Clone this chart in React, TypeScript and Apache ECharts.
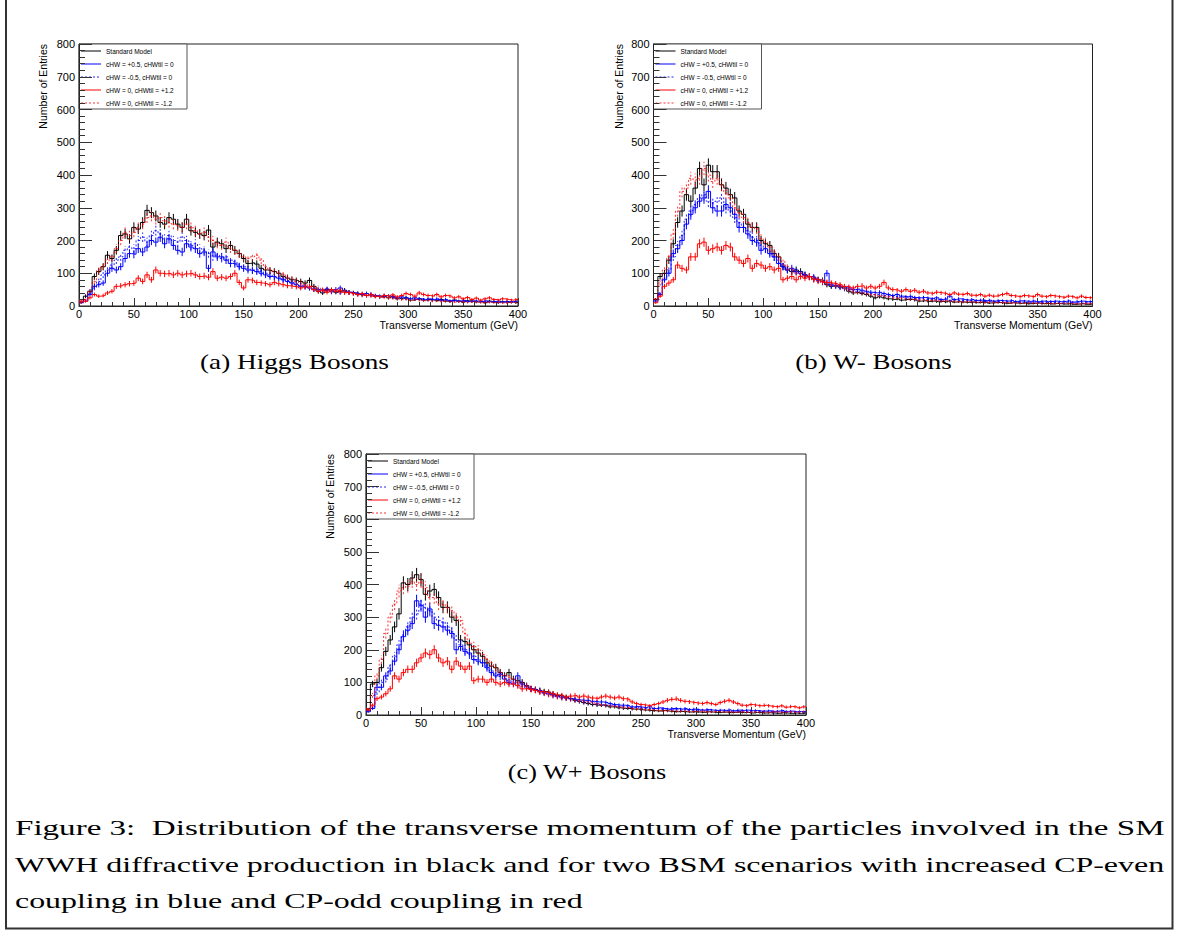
import React, { useEffect, useRef } from "react";
import * as echarts from "echarts";

// ---------------- data (4 GeV bins, 0-400 GeV) ----------------
const BIN_WIDTH = 4;
const X_MIN = 0;
const X_MAX = 400;
const Y_MIN = 0;
const Y_MAX = 800;

const seriesNames = [
  "Standard Model",
  "cHW = +0.5, cHWtil = 0",
  "cHW = -0.5, cHWtil = 0",
  "cHW = 0, cHWtil = +1.2",
  "cHW = 0, cHWtil = -1.2",
];

// (a) Higgs bosons
const higgsSM = [
  12, 30, 45, 90, 105, 120, 155, 145, 170, 215,
  220, 205, 240, 235, 255, 292, 285, 275, 255, 250,
  270, 265, 250, 240, 265, 230, 225, 220, 215, 232,
  180, 195, 190, 175, 185, 170, 160, 145, 130, 132,
  128, 115, 110, 108, 105, 100, 90, 85, 80, 78,
  75, 70, 78, 60, 45, 40, 50, 48, 42, 45,
  48, 42, 40, 38, 35, 32, 35, 30, 28, 30,
  25, 28, 22, 24, 25, 18, 20, 22, 18, 20,
  18, 16, 20, 15, 14, 18, 15, 12, 16, 14,
  12, 14, 10, 15, 12, 10, 13, 11, 12, 10,
];
const higgsCHWPlus = [
  10, 15, 35, 60, 65, 70, 100, 115, 110, 120,
  145, 160, 158, 175, 165, 180, 200, 195, 210, 190,
  205, 185, 170, 165, 190, 180, 175, 160, 165, 115,
  165, 150, 150, 140, 130, 128, 120, 115, 110, 108,
  105, 100, 95, 90, 88, 85, 80, 75, 70, 65,
  60, 58, 55, 52, 50, 48, 52, 45, 50, 55,
  45, 42, 40, 38, 35, 38, 35, 32, 30, 32,
  30, 28, 25, 28, 25, 22, 25, 22, 20, 22,
  20, 22, 18, 20, 16, 18, 15, 17, 14, 16,
  15, 14, 16, 13, 14, 15, 12, 14, 13, 15,
];
const higgsCHWMinus = [
  12, 20, 40, 55, 75, 95, 110, 125, 140, 150,
  170, 180, 175, 200, 210, 195, 215, 230, 220, 205,
  215, 200, 195, 210, 200, 185, 190, 175, 170, 160,
  150, 155, 145, 150, 140, 135, 125, 120, 115, 110,
  110, 105, 100, 95, 90, 88, 82, 78, 72, 68,
  62, 60, 55, 50, 48, 45, 48, 42, 45, 40,
  42, 40, 38, 35, 36, 32, 34, 30, 28, 30,
  28, 26, 25, 24, 22, 24, 20, 22, 20, 18,
  18, 20, 16, 18, 15, 16, 14, 15, 13, 14,
  14, 12, 13, 12, 14, 11, 12, 13, 11, 12,
];
const higgsTilPlus = [
  15, 14, 25, 35, 30, 32, 40, 45, 60, 62,
  65, 68, 70, 85, 75, 95, 80, 110, 100, 98,
  100, 95, 100, 95, 98, 100, 95, 90, 92, 88,
  105, 85, 88, 85, 90, 100, 72, 55, 80, 78,
  72, 70, 68, 65, 72, 68, 65, 62, 60, 58,
  55, 58, 60, 50, 45, 48, 42, 50, 45, 48,
  42, 40, 38, 35, 38, 32, 35, 30, 28, 32,
  30, 34, 28, 32, 38, 35, 30, 40, 35, 32,
  30, 35, 28, 32, 30, 25, 28, 22, 26, 20,
  24, 18, 22, 25, 20, 18, 22, 20, 18, 20,
];
const higgsTilMinus = [
  10, 20, 45, 75, 110, 120, 140, 150, 175, 200,
  225, 215, 225, 240, 250, 270, 275, 265, 270, 260,
  255, 250, 245, 240, 250, 240, 230, 220, 225, 210,
  200, 190, 185, 195, 175, 170, 160, 150, 145, 150,
  155, 140, 120, 110, 105, 100, 95, 88, 82, 75,
  70, 65, 60, 58, 55, 50, 48, 45, 50, 42,
  40, 42, 38, 35, 32, 35, 30, 28, 30, 26,
  25, 24, 22, 20, 22, 18, 20, 18, 16, 18,
  15, 16, 14, 15, 13, 12, 14, 12, 11, 13,
  12, 10, 11, 12, 10, 11, 9, 10, 11, 10,
];

// (b) W- bosons
const wMinusSM = [
  20, 90, 100, 140, 190, 255, 290, 340, 320, 360,
  420, 370, 430, 410, 410, 370, 360, 340, 330, 290,
  280, 250, 240, 240, 200, 190, 185, 160, 150, 120,
  110, 105, 110, 105, 95, 90, 85, 80, 78, 65,
  60, 62, 58, 55, 45, 40, 42, 38, 35, 30,
  25, 28, 25, 22, 20, 22, 18, 20, 20, 18,
  15, 16, 14, 15, 13, 14, 12, 15, 12, 13,
  12, 11, 12, 10, 11, 12, 9, 10, 11, 9,
  8, 10, 9, 8, 10, 7, 8, 9, 7, 8,
  6, 8, 7, 6, 7, 5, 6, 7, 5, 6,
];
const wMinusCHWPlus = [
  15, 35, 80, 100, 160, 175, 200, 250, 280, 300,
  320, 330, 350, 300, 290, 290, 310, 300, 280, 240,
  240, 220, 200, 195, 170, 175, 160, 150, 130, 120,
  110, 115, 105, 100, 95, 90, 88, 80, 75, 100,
  65, 62, 60, 58, 55, 50, 52, 48, 45, 42,
  40, 42, 38, 35, 32, 35, 30, 28, 30, 26,
  25, 26, 24, 22, 25, 20, 22, 30, 20, 22,
  20, 18, 20, 17, 18, 16, 18, 15, 17, 16,
  15, 17, 14, 16, 15, 14, 16, 13, 15, 14,
  14, 15, 13, 14, 16, 12, 14, 15, 13, 14,
];
const wMinusCHWMinus = [
  18, 40, 85, 110, 150, 185, 215, 265, 290, 310,
  330, 340, 320, 315, 320, 330, 300, 290, 270, 255,
  240, 230, 210, 200, 185, 175, 165, 150, 140, 125,
  115, 110, 105, 98, 92, 88, 82, 78, 72, 68,
  62, 60, 56, 52, 50, 48, 45, 42, 40, 38,
  35, 36, 32, 30, 28, 30, 26, 25, 24, 22,
  22, 20, 21, 19, 20, 18, 19, 17, 18, 16,
  16, 17, 15, 16, 14, 15, 13, 14, 13, 12,
  13, 12, 11, 12, 11, 10, 12, 11, 10, 11,
  10, 11, 9, 10, 11, 9, 10, 9, 10, 9,
];
const wMinusTilPlus = [
  10, 30, 60, 70, 80, 125, 115, 110, 150, 150,
  190, 195, 170, 175, 180, 170, 185, 180, 150, 140,
  130, 145, 115, 130, 125, 115, 120, 110, 115, 80,
  85, 90, 80, 90, 85, 90, 82, 80, 75, 72,
  70, 68, 65, 60, 58, 55, 60, 62, 55, 60,
  55, 60, 72, 55, 50, 48, 45, 50, 45, 48,
  42, 45, 40, 38, 42, 40, 38, 35, 40, 36,
  35, 38, 33, 32, 35, 30, 33, 30, 32, 35,
  38, 32, 30, 28, 32, 30, 28, 35, 30, 28,
  32, 30, 28, 26, 30, 28, 25, 30, 26, 25,
];
const wMinusTilMinus = [
  22, 70, 110, 150, 220, 290, 350, 360, 390, 385,
  390, 420, 400, 380, 390, 370, 345, 330, 300, 285,
  270, 255, 240, 235, 205, 195, 180, 165, 150, 135,
  120, 110, 100, 95, 92, 88, 80, 75, 72, 70,
  68, 65, 60, 55, 50, 45, 42, 40, 38, 35,
  35, 32, 30, 28, 26, 25, 24, 22, 20, 22,
  18, 20, 17, 18, 16, 15, 17, 14, 15, 13,
  12, 14, 12, 11, 13, 10, 12, 11, 10, 11,
  10, 9, 10, 8, 9, 10, 8, 9, 7, 8,
  8, 7, 8, 9, 7, 8, 6, 7, 8, 7,
];

// (c) W+ bosons
const wPlusSM = [
  15, 95, 100, 145, 195, 230, 270, 310, 405, 400,
  420, 430, 415, 370, 380, 385, 360, 330, 330, 300,
  290, 230, 225, 215, 200, 190, 180, 160, 150, 145,
  130, 120, 130, 110, 105, 100, 90, 80, 78, 75,
  72, 70, 65, 60, 58, 55, 50, 45, 42, 38,
  35, 32, 30, 30, 28, 25, 25, 22, 20, 20,
  18, 18, 16, 15, 14, 13, 12, 14, 12, 11,
  10, 11, 10, 9, 10, 9, 8, 10, 9, 8,
  8, 9, 7, 8, 9, 7, 8, 6, 8, 7,
  6, 7, 6, 5, 7, 6, 5, 6, 5, 6,
];
const wPlusCHWPlus = [
  10, 20, 85, 85, 120, 135, 165, 200, 240, 260,
  280, 350, 335, 300, 325, 280, 275, 270, 260, 250,
  200, 210, 195, 190, 170, 165, 160, 145, 130, 120,
  125, 110, 100, 95, 120, 95, 88, 80, 78, 75,
  68, 65, 62, 58, 55, 52, 50, 48, 46, 45,
  45, 42, 40, 40, 38, 35, 32, 30, 30, 28,
  25, 26, 24, 22, 25, 20, 22, 20, 18, 20,
  20, 18, 20, 17, 18, 16, 15, 17, 15, 14,
  15, 14, 16, 13, 15, 14, 15, 13, 14, 12,
  12, 13, 11, 12, 14, 11, 12, 10, 11, 10,
];
const wPlusCHWMinus = [
  12, 25, 70, 100, 110, 150, 180, 215, 245, 270,
  300, 310, 340, 330, 320, 300, 290, 285, 270, 255,
  230, 215, 200, 185, 180, 170, 160, 150, 135, 125,
  118, 112, 105, 100, 92, 88, 84, 80, 76, 72,
  68, 64, 60, 56, 52, 50, 48, 46, 42, 40,
  38, 36, 35, 32, 30, 30, 28, 26, 25, 24,
  22, 24, 20, 21, 19, 20, 18, 19, 17, 16,
  16, 15, 17, 14, 15, 14, 13, 15, 12, 13,
  12, 13, 11, 12, 11, 12, 10, 11, 10, 11,
  10, 11, 9, 10, 9, 10, 9, 10, 8, 9,
];
const wPlusTilPlus = [
  15, 30, 50, 55, 65, 80, 120, 110, 130, 140,
  140, 160, 175, 190, 185, 200, 175, 160, 165, 140,
  165, 150, 140, 150, 105, 110, 110, 100, 110, 100,
  95, 100, 95, 95, 90, 80, 82, 78, 75, 72,
  70, 68, 65, 62, 60, 55, 58, 60, 55, 58,
  55, 52, 50, 55, 58, 55, 52, 55, 50, 48,
  40, 35, 32, 30, 28, 32, 35, 40, 45, 48,
  50, 45, 42, 40, 38, 36, 35, 38, 35, 32,
  38, 42, 45, 40, 35, 30, 28, 32, 30, 28,
  30, 28, 26, 25, 28, 24, 26, 25, 22, 25,
];
const wPlusTilMinus = [
  20, 60, 120, 170, 250, 300, 340, 380, 390, 395,
  410, 400, 410, 390, 360, 360, 340, 340, 330, 320,
  300, 290, 250, 220, 210, 200, 185, 170, 160, 145,
  130, 120, 115, 108, 100, 95, 88, 82, 76, 70,
  66, 62, 58, 55, 52, 50, 48, 45, 44, 42,
  40, 38, 35, 32, 30, 28, 27, 25, 24, 22,
  20, 19, 18, 17, 16, 15, 14, 13, 14, 12,
  12, 11, 12, 10, 11, 10, 12, 9, 10, 11,
  10, 9, 10, 8, 9, 10, 8, 9, 10, 8,
  9, 8, 10, 9, 8, 9, 10, 8, 9, 10,
];

const panelData = [
  [higgsSM, higgsCHWPlus, higgsCHWMinus, higgsTilPlus, higgsTilMinus],
  [wMinusSM, wMinusCHWPlus, wMinusCHWMinus, wMinusTilPlus, wMinusTilMinus],
  [wPlusSM, wPlusCHWPlus, wPlusCHWMinus, wPlusTilPlus, wPlusTilMinus],
];
const subCaptions = ["(a) Higgs Bosons", "(b) W- Bosons", "(c) W+ Bosons"];
const figureCaption = [
  "Figure 3:  Distribution of the transverse momentum of the particles involved in the SM",
  "WWH diffractive production in black and for two BSM scenarios with increased CP-even",
  "coupling in blue and CP-odd coupling in red",
];
const xTitle = "Transverse Momentum (GeV)";
const yTitle = "Number of Entries";

// ---------------- styles / layout ----------------
const seriesColors = ["#000000", "#0000ff", "#0000ff", "#ff0000", "#ff0000"];
const seriesDash: any[] = ["solid", "solid", [2, 2], "solid", [2, 2]];
const seriesOpacity = [1, 1, 0.85, 1, 0.8];

const layouts = [
  { left: 79, top: 44, width: 439, height: 262, yTitleX: 43, capX: 294.5, capY: 369, capW: 189 },
  { left: 653.5, top: 44, width: 439, height: 262, yTitleX: 618.5, capX: 873.5, capY: 369, capW: 157 },
  { left: 366, top: 454, width: 440, height: 261, yTitleX: 330, capX: 587, capY: 779, capW: 159 },
];
const captionLines = [
  { x: 15, y: 835, w: 1150 },
  { x: 15, y: 872, w: 1150 },
  { x: 15, y: 908, w: 568 },
];
const SERIF = "'Liberation Serif', 'Times New Roman', serif";
const SANS = "'Liberation Sans', Arial, Helvetica, sans-serif";
const CAP_FS = 22;

function measure(text: string, font: string): number {
  const c = document.createElement("canvas").getContext("2d");
  if (!c) return text.length * 10;
  c.font = font;
  return c.measureText(text).width;
}

function buildOption() {
  const grids: any[] = [];
  const xAxes: any[] = [];
  const yAxes: any[] = [];
  const series: any[] = [];
  const graphics: any[] = [];

  layouts.forEach((L, p) => {
    grids.push({
      left: L.left,
      top: L.top,
      width: L.width,
      height: L.height,
      show: true,
      borderColor: "#222",
      borderWidth: 1,
      backgroundColor: "transparent",
      containLabel: false,
    });
    xAxes.push({
      gridIndex: p,
      type: "value",
      min: X_MIN,
      max: X_MAX,
      interval: 50,
      axisLine: { show: true, onZero: false, lineStyle: { color: "#222", width: 1 } },
      axisTick: { show: true, inside: true, length: 8, lineStyle: { color: "#333", width: 1 } },
      minorTick: { show: true, splitNumber: 5, length: 4, lineStyle: { color: "#333", width: 1 } },
      axisLabel: { show: true, color: "#000", fontSize: 11, fontFamily: SANS, margin: 2, showMinLabel: true, showMaxLabel: true },
      splitLine: { show: false },
      minorSplitLine: { show: false },
    });
    yAxes.push({
      gridIndex: p,
      type: "value",
      min: Y_MIN,
      max: Y_MAX,
      interval: 100,
      axisLine: { show: true, onZero: false, lineStyle: { color: "#222", width: 1 } },
      axisTick: { show: true, inside: true, length: 13, lineStyle: { color: "#333", width: 1 } },
      minorTick: { show: true, splitNumber: 5, length: 6, lineStyle: { color: "#333", width: 1 } },
      axisLabel: { show: true, color: "#000", fontSize: 11, fontFamily: SANS, margin: 4 },
      splitLine: { show: false },
      minorSplitLine: { show: false },
    });

    panelData[p].forEach((vals, k) => {
      const color = seriesColors[k];
      const dash = seriesDash[k];
      const edges: number[][] = vals.map((v, i) => [i * BIN_WIDTH, v]);
      edges.push([vals.length * BIN_WIDTH, vals[vals.length - 1]]);
      series.push({
        type: "line",
        name: seriesNames[k],
        xAxisIndex: p,
        yAxisIndex: p,
        step: "end",
        symbol: "none",
        showSymbol: false,
        silent: true,
        z: 2 + k,
        data: edges,
        lineStyle: { color, width: 1, type: dash, opacity: seriesOpacity[k] },
      });
      series.push({
        type: "custom",
        name: seriesNames[k] + " errors",
        xAxisIndex: p,
        yAxisIndex: p,
        silent: true,
        z: 2 + k,
        clip: true,
        data: vals.map((v, i) => [i * BIN_WIDTH + BIN_WIDTH / 2, v, Math.sqrt(v)]),
        renderItem: (params: any, api: any) => {
          const xc = api.value(0);
          const v = api.value(1);
          const e = api.value(2);
          const a = api.coord([xc, Math.max(0, v - e)]);
          const b = api.coord([xc, v + e]);
          return {
            type: "line",
            shape: { x1: a[0], y1: a[1], x2: b[0], y2: b[1] },
            style: {
              stroke: color,
              lineWidth: 1,
              lineDash: dash === "solid" ? null : dash,
              opacity: seriesOpacity[k],
            },
          };
        },
      });
    });

    // legend box
    const legendChildren: any[] = [
      {
        type: "rect",
        shape: { x: 0, y: 0, width: 108, height: 65 },
        style: { fill: "#ffffff", stroke: "#555", lineWidth: 1 },
      },
    ];
    seriesNames.forEach((name, k) => {
      const yy = 7 + k * 13;
      legendChildren.push({
        type: "line",
        shape: { x1: 2, y1: yy, x2: 22, y2: yy },
        style: {
          stroke: seriesColors[k],
          lineWidth: 1,
          lineDash: seriesDash[k] === "solid" ? null : seriesDash[k],
          opacity: seriesOpacity[k],
        },
      });
      legendChildren.push({
        type: "text",
        x: 27,
        y: yy,
        style: {
          text: name,
          fill: "#000",
          font: `6.5px ${SANS}`,
          align: "left",
          verticalAlign: "middle",
          textAlign: "left",
          textVerticalAlign: "middle",
        },
      });
    });
    graphics.push({ type: "group", x: L.left, y: L.top, z: 50, children: legendChildren });

    // axis titles
    graphics.push({
      type: "text",
      x: L.yTitleX,
      y: L.top,
      rotation: Math.PI / 2,
      z: 50,
      style: {
        text: yTitle,
        fill: "#000",
        font: `10.5px ${SANS}`,
        align: "right",
        verticalAlign: "middle",
        textAlign: "right",
        textVerticalAlign: "middle",
      },
    });
    graphics.push({
      type: "text",
      x: L.left + L.width,
      y: L.top + L.height + 19,
      z: 50,
      style: {
        text: xTitle,
        fill: "#000",
        font: `10.5px ${SANS}`,
        align: "right",
        verticalAlign: "middle",
        textAlign: "right",
        textVerticalAlign: "middle",
      },
    });

    // sub caption
    const capFont = `${CAP_FS}px ${SERIF}`;
    const cw = measure(subCaptions[p], capFont);
    graphics.push({
      type: "text",
      x: L.capX,
      y: L.capY - CAP_FS * 0.34,
      scaleX: L.capW / cw,
      z: 50,
      style: {
        text: subCaptions[p],
        fill: "#000",
        font: capFont,
        align: "center",
        verticalAlign: "middle",
        textAlign: "center",
        textVerticalAlign: "middle",
      },
    });
  });

  // figure caption
  const capFont = `${CAP_FS}px ${SERIF}`;
  figureCaption.forEach((line, i) => {
    const C = captionLines[i];
    const w = measure(line, capFont);
    graphics.push({
      type: "text",
      x: C.x,
      y: C.y - CAP_FS * 0.34,
      scaleX: C.w / w,
      z: 50,
      style: {
        text: line,
        fill: "#000",
        font: capFont,
        align: "left",
        verticalAlign: "middle",
        textAlign: "left",
        textVerticalAlign: "middle",
      },
    });
  });

  // outer frame
  graphics.push({
    type: "rect",
    z: 60,
    shape: { x: 6, y: -10, width: 1166.5, height: 938.5 },
    style: { fill: "none", stroke: "#333", lineWidth: 2 },
  });

  return {
    animation: false,
    backgroundColor: "#ffffff",
    grid: grids,
    xAxis: xAxes,
    yAxis: yAxes,
    series,
    graphic: graphics,
  };
}

export default function App() {
  const ref = useRef<HTMLDivElement>(null);
  useEffect(() => {
    if (!ref.current) return;
    const chart = echarts.init(ref.current, undefined, { renderer: "svg" });
    chart.setOption(buildOption() as any);
    return () => {
      chart.dispose();
    };
  }, []);
  return (
    <div
      ref={ref}
      style={{ position: "fixed", left: 0, top: 0, width: 1179, height: 932, background: "#fff" }}
    />
  );
}
